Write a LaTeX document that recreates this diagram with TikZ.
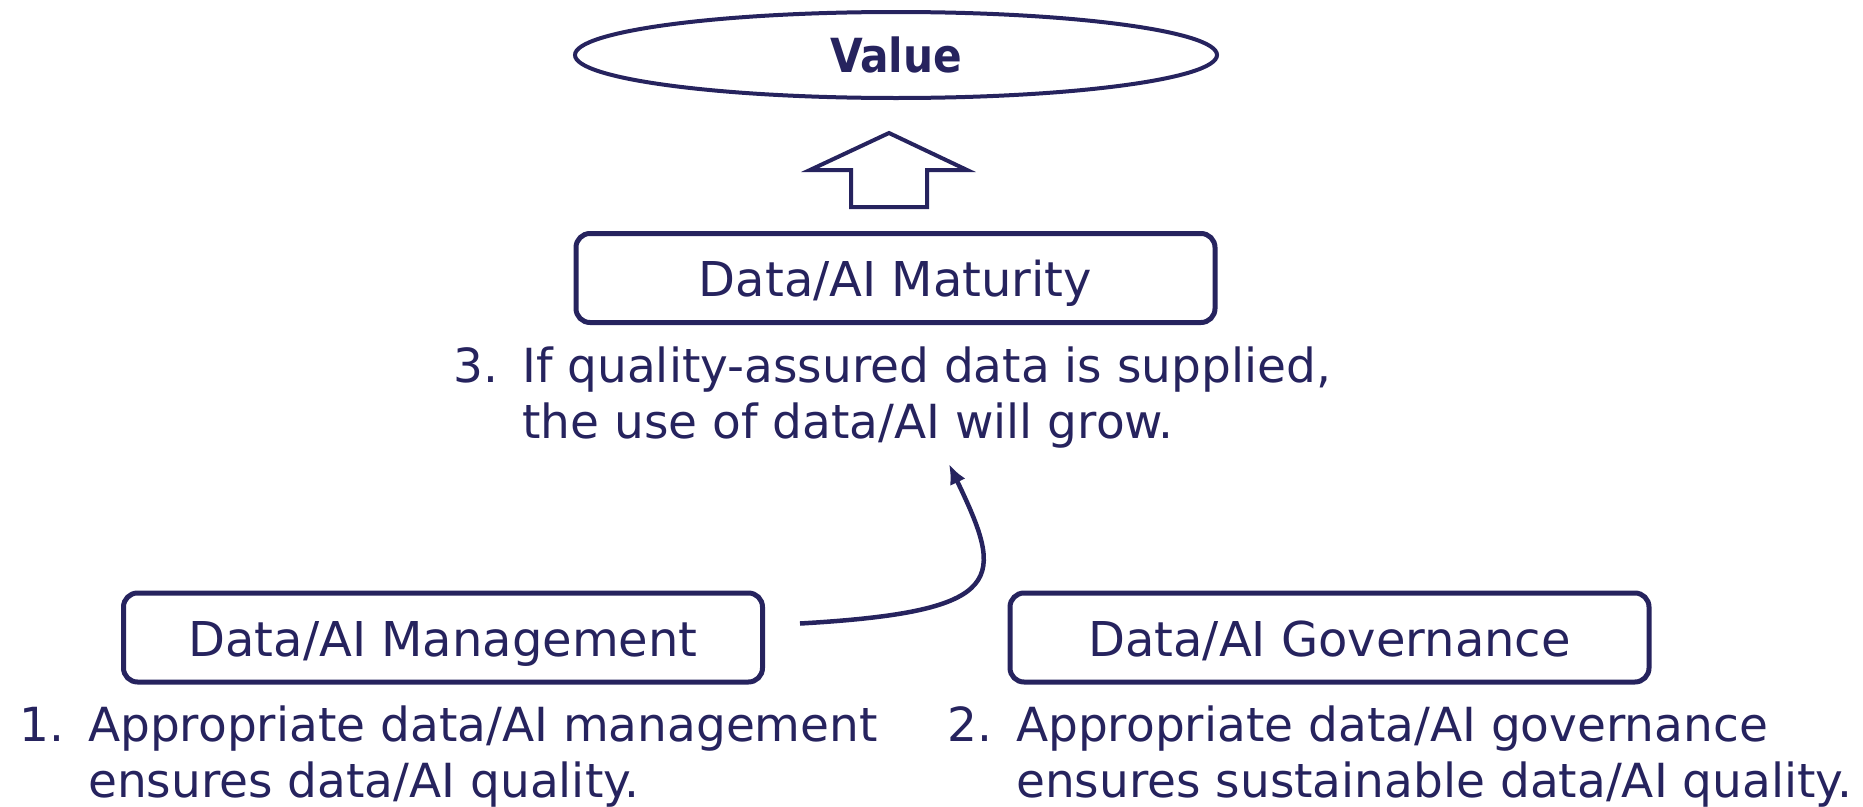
\documentclass[tikz,border=0pt]{standalone}
\usepackage{fontspec}
\setmainfont{DejaVu Sans}
\newfontfamily\condfont{DejaVu Sans Condensed}
\usetikzlibrary{arrows.meta,shapes.geometric,calc}
\definecolor{navy}{RGB}{38,35,94}
\tikzset{
  outline/.style={draw=navy,line width=4pt},
  boxnode/.style={outline,line width=5pt,rounded corners=14pt,minimum width=639pt,minimum height=89pt,inner sep=0pt,
    text height=37pt,text depth=0pt,text=navy,font=\fontsize{48}{56}\selectfont},
  numtext/.style={anchor=base west,inner sep=0pt,text=navy,font=\fontsize{47}{56}\selectfont},
  link/.style={draw=navy,line width=4.5pt,-{Latex[length=20pt,width=17pt]}}
}
\newcommand{\numitem}[3]{\begin{tabular}[t]{@{}l@{}l@{}}\makebox[69pt][l]{#1}&#2\\&#3\end{tabular}}
\begin{document}
\begin{tikzpicture}[x=1pt,y=-1pt]
\useasboundingbox (0,0) rectangle (1863,806);
\node[outline,ellipse,minimum width=642pt,minimum height=86pt,inner sep=0pt,
  text=navy,font=\condfont\bfseries\fontsize{47}{56}\selectfont] (value) at (896,55) {Value};
\draw[outline,line join=miter] (851,207) -- (927,207) -- (927,170) -- (967,170) -- (889,133) -- (810,170) -- (851,170) -- cycle;
\node[boxnode] (mat) at (895.5,278) {Data/AI Maturity};
\node[boxnode] (mgmt) at (443,637.5) {Data/AI Management};
\node[boxnode] (gov) at (1329.5,637.5) {Data/AI Governance};
\node[numtext] (t3) at (453,382) {\numitem{3.}{If quality-assured data is supplied,}{the use of data/AI will grow.}};
\node[numtext] (t1) at (19,741) {\numitem{1.}{Appropriate data/AI management}{ensures data/AI quality.}};
\node[numtext] (t2) at (947,741) {\numitem{2.}{Appropriate data/AI governance}{ensures sustainable data/AI quality.}};
\draw[link] ($(mgmt.east)+(35,-14)$) .. controls +(210,-12) and +(55,115) .. ($(t3.south west)+(496,9)$);
\end{tikzpicture}
\end{document}
